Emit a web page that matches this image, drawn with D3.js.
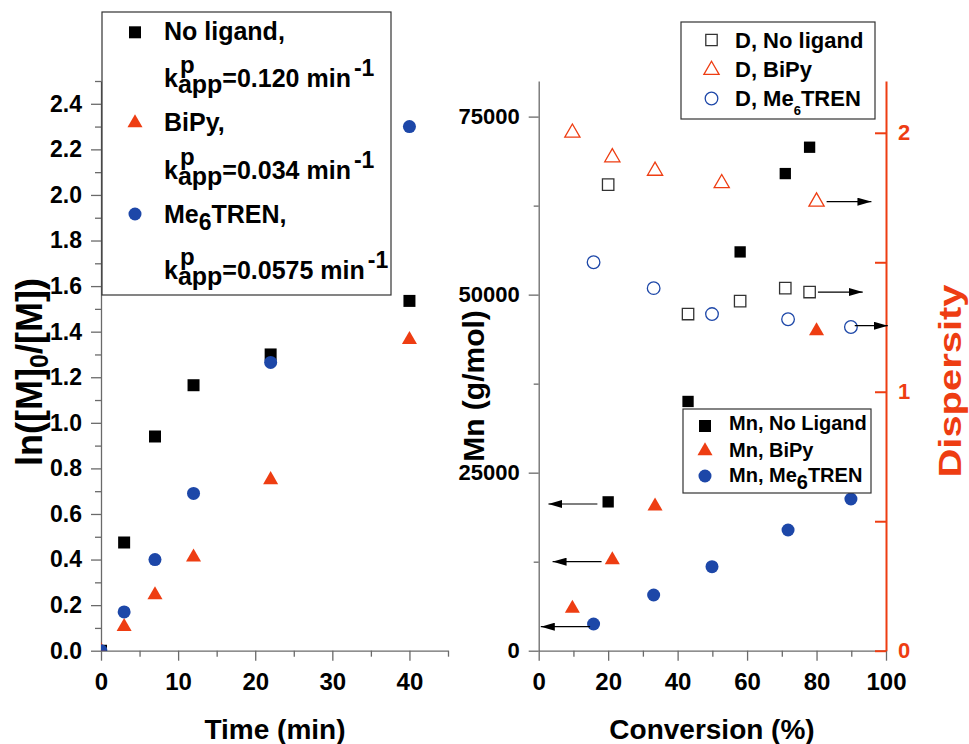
<!DOCTYPE html>
<html>
<head>
<meta charset="utf-8">
<script src="https://cdn.jsdelivr.net/npm/d3@7"></script>
<style>
  body { margin: 0; background: #fff; }
  text { font-family: "Liberation Sans", Arial, sans-serif; font-weight: bold; }
</style>
</head>
<body>
<script>
// ---- data: kinetics (left panel) ----
var timeMin    = [0, 3, 7, 12, 22, 40];
var lnNoLigand = [0, 0.475, 0.94, 1.165, 1.30, 1.535];
var lnBiPy     = [0, 0.105, 0.245, 0.41, 0.75, 1.365];
var lnMe6      = [0, 0.17, 0.40, 0.69, 1.265, 2.30];

// ---- data: Mn and dispersity vs conversion (right panel) ----
var convNoLigand = [20, 43, 58, 71, 78];
var mnNoLigand   = [20900, 35000, 56000, 67000, 70700];
var dNoLigand    = [1.80, 1.30, 1.35, 1.40, 1.385];

var convMnBiPy = [9.7, 21.2, 33.5, 80];
var mnBiPy     = [5950, 12740, 20300, 44900];
var convDBiPy  = [9.7, 21.2, 33.5, 52.7, 80];
var dBiPy      = [2.00, 1.905, 1.853, 1.805, 1.734];

var convMe6 = [15.8, 33.1, 49.9, 71.8, 89.9];
var mnMe6   = [3750, 7820, 11800, 16950, 21300];
var dMe6    = [1.50, 1.40, 1.30, 1.28, 1.25];

// arrows: which axis the series belongs to (conversion from -> to, at value)
var arrowFrom  = [82.9, 80.4, 91.0, 16.9, 18.1, 14.8];
var arrowTo    = [95.8, 93.3, 100.5, 2.8, 4.0, 0.6];
var arrowAt    = [1.734, 1.385, 1.255, 20600, 12500, 3370];
var arrowScale = ['D', 'D', 'D', 'Mn', 'Mn', 'Mn'];

// tick values
var lnMajor = [0, 0.2, 0.4, 0.6, 0.8, 1.0, 1.2, 1.4, 1.6, 1.8, 2.0, 2.2, 2.4];
var lnMinor = [0.1, 0.3, 0.5, 0.7, 0.9, 1.1, 1.3, 1.5, 1.7, 1.9, 2.1, 2.3, 2.5];
var timeMajor = [0, 10, 20, 30, 40];
var timeMinor = [5, 15, 25, 35, 45];
var convMajor = [0, 20, 40, 60, 80, 100];
var convMinor = [10, 30, 50, 70, 90];
var mnMajor = [0, 25000, 50000, 75000];
var mnMinor = [12500, 37500, 62500];
var dMajor = [0, 1, 2];
var dMinor = [0.5, 1.5];

var RED = '#ee3d12', BLUE = '#1d47a8', AXIS = '#6a6a6a';

var svg = d3.select('body').append('svg')
            .attr('width', 969)
            .attr('height', 744);

//scales
var xT  = d3.scaleLinear().domain([0, 45]).range([101, 448]);
var yLn = d3.scaleLinear().domain([0, 2.5]).range([650.7, 81]);
var xC  = d3.scaleLinear().domain([0, 100]).range([538.7, 886]);
var yMn = d3.scaleLinear().domain([0, 80000]).range([650.7, 81]);
var yD  = d3.scaleLinear().domain([0, 2.2]).range([650.7, 81]);

//axis helper: major ticks with labels + minor ticks without
function drawAxis(orient, scale, tx, ty, major, minor, fmt, opt){
  var make = {left: d3.axisLeft, bottom: d3.axisBottom, right: d3.axisRight}[orient];
  var g = svg.append('g').attr('transform', 'translate(' + tx + ',' + ty + ')');
  var gMin = g.append('g').call(make(scale).tickValues(minor).tickFormat('')
                .tickSize(opt.minor).tickSizeOuter(0));
  gMin.select('.domain').remove();
  var gMaj = g.append('g').call(make(scale).tickValues(major).tickFormat(fmt)
                .tickSize(opt.major).tickSizeOuter(0).tickPadding(opt.pad));
  g.selectAll('line').attr('stroke', opt.color).attr('stroke-width', opt.width);
  g.selectAll('.domain').attr('stroke', opt.color).attr('stroke-width', opt.width);
  gMaj.attr('font-family', null).attr('font-size', null);
  gMaj.selectAll('text')
      .style('font-size', opt.font + 'px')
      .attr('fill', opt.textColor || '#000');
  return g;
}

drawAxis('left', yLn, 101, 0, lnMajor, lnMinor, d3.format('.1f'),
         {major: 10, minor: 6, pad: 9, color: AXIS, width: 1.3, font: 23});
drawAxis('bottom', xT, 0, 650.7, timeMajor, timeMinor, d3.format('d'),
         {major: 10, minor: 6, pad: 12, color: AXIS, width: 1.3, font: 24});
drawAxis('left', yMn, 538.7, 0, mnMajor, mnMinor, d3.format('d'),
         {major: 10, minor: 5, pad: 9, color: AXIS, width: 1.3, font: 22});
drawAxis('bottom', xC, 0, 650.7, convMajor, convMinor, d3.format('d'),
         {major: 10, minor: 6, pad: 12, color: AXIS, width: 1.3, font: 24});
drawAxis('right', yD, 886, 0, dMajor, dMinor, d3.format('d'),
         {major: -11, minor: -11, pad: 12, color: RED, width: 2, font: 22, textColor: RED});

//marker helpers
var sqSym  = d3.symbol().type(d3.symbolSquare).size(144);
var triSym = d3.symbol().type(d3.symbolTriangle).size(98);
var cirSym = d3.symbol().type(d3.symbolCircle).size(133);

function drawPoints(layer, xs, ys, xScale, yScale, sym, fill, stroke){
  layer.selectAll(null).data(xs.map(function(d, i){ return {x: d, y: ys[i]}; }))
    .enter().append('path')
    .attr('d', sym)
    .attr('transform', function(d){ return 'translate(' + xScale(d.x) + ',' + yScale(d.y) + ')'; })
    .attr('fill', fill)
    .attr('stroke', stroke || 'none')
    .attr('stroke-width', 1.3);
}

//left panel points (clipped to plot area)
svg.append('clipPath').attr('id', 'clipL').append('rect')
   .attr('x', 101).attr('y', 81).attr('width', 347).attr('height', 569.7);
var left = svg.append('g').attr('clip-path', 'url(#clipL)');
drawPoints(left, timeMin, lnNoLigand, xT, yLn, sqSym, '#000');
drawPoints(left, timeMin, lnBiPy, xT, yLn, triSym, RED);
drawPoints(left, timeMin, lnMe6, xT, yLn, cirSym, BLUE);

//right panel points
var right = svg.append('g');
var oSq  = d3.symbol().type(d3.symbolSquare).size(130);
var oTri = d3.symbol().type(d3.symbolTriangle).size(100);
var oCir = d3.symbol().type(d3.symbolCircle).size(125);
drawPoints(right, convNoLigand, dNoLigand, xC, yD, oSq, 'none', '#333');
drawPoints(right, convDBiPy, dBiPy, xC, yD, oTri, 'none', RED);
drawPoints(right, convMe6, dMe6, xC, yD, oCir, 'none', BLUE);
drawPoints(right, convNoLigand, mnNoLigand, xC, yMn, d3.symbol().type(d3.symbolSquare).size(128), '#000');
drawPoints(right, convMnBiPy, mnBiPy, xC, yMn, triSym, RED);
drawPoints(right, convMe6, mnMe6, xC, yMn, cirSym, BLUE);

//arrows
svg.append('defs').append('marker')
   .attr('id', 'head').attr('viewBox', '0 0 14 8')
   .attr('refX', 14).attr('refY', 4)
   .attr('markerWidth', 14).attr('markerHeight', 8)
   .attr('markerUnits', 'userSpaceOnUse').attr('orient', 'auto')
   .append('path').attr('d', 'M0,0L14,4L0,8Z').attr('fill', '#000');
svg.append('g').selectAll('line').data(arrowFrom)
   .enter().append('line')
   .attr('x1', function(d){ return xC(d); })
   .attr('x2', function(d, i){ return xC(arrowTo[i]); })
   .attr('y1', function(d, i){ return (arrowScale[i] === 'D' ? yD : yMn)(arrowAt[i]); })
   .attr('y2', function(d, i){ return (arrowScale[i] === 'D' ? yD : yMn)(arrowAt[i]); })
   .attr('stroke', '#000').attr('stroke-width', 1.2)
   .attr('marker-end', 'url(#head)');

//legend: left panel
var legL = svg.append('g');
legL.append('rect').attr('x', 102).attr('y', 12).attr('width', 289).attr('height', 283)
    .attr('fill', '#fff').attr('stroke', '#333').attr('stroke-width', 1.2);
[[sqSym, '#000', 32.3], [triSym, RED, 123], [cirSym, BLUE, 214]].forEach(function(s){
  legL.append('path').attr('d', s[0]).attr('fill', s[1])
      .attr('transform', 'translate(135,' + s[2] + ')');
});
function plain(g, x, y, str, size){
  return g.append('text').attr('x', x).attr('y', y).style('font-size', size + 'px').text(str);
}
plain(legL, 164, 40, 'No ligand,', 25);
plain(legL, 164, 131, 'BiPy,', 25);
var me = plain(legL, 164, 223, 'Me', 25);
me.append('tspan').attr('dy', 7).style('font-size', '23px').text('6');
me.append('tspan').attr('dy', -7).text('TREN,');

//k_app^p line in one text element: p stacked over app
function kappLine(g, x, y, str){
  var t = plain(g, x, y, 'k', 25);
  var cx = x + t.node().getComputedTextLength();
  t.append('tspan').attr('x', cx + 2).attr('dy', -14).style('font-size', '24px').text('p');
  t.append('tspan').attr('x', cx).attr('dy', 20).text('app');
  t.append('tspan').attr('dy', -6).text(str);
  t.append('tspan').attr('dx', 3).attr('dy', -11).style('font-size', '23px').text('-1');
}
kappLine(legL, 164, 87, '=0.120 min');
kappLine(legL, 164, 179, '=0.034 min');
kappLine(legL, 164, 279, '=0.0575 min');

//legend: dispersity
var legD = svg.append('g');
legD.append('rect').attr('x', 681).attr('y', 22).attr('width', 194).attr('height', 97)
    .attr('fill', '#fff').attr('stroke', '#333').attr('stroke-width', 1.2);
[[oSq, '#333', 40], [oTri, RED, 70], [oCir, BLUE, 98.5]].forEach(function(s){
  legD.append('path').attr('d', s[0]).attr('fill', 'none').attr('stroke', s[1])
      .attr('stroke-width', 1.3).attr('transform', 'translate(711.5,' + s[2] + ')');
});
plain(legD, 735, 47.5, 'D, No ligand', 22);
plain(legD, 735, 77, 'D, BiPy', 22);
var dm = plain(legD, 735, 106, 'D, Me', 22);
dm.append('tspan').attr('dy', 9).style('font-size', '13px').text('6');
dm.append('tspan').attr('dy', -9).text('TREN');

//legend: Mn
var legM = svg.append('g');
legM.append('rect').attr('x', 683).attr('y', 409).attr('width', 188).attr('height', 84)
    .attr('fill', '#fff').attr('stroke', '#333').attr('stroke-width', 1.2);
[[sqSym, '#000', 426], [triSym, RED, 451], [cirSym, BLUE, 476]].forEach(function(s){
  legM.append('path').attr('d', s[0]).attr('fill', s[1])
      .attr('transform', 'translate(705,' + s[2] + ')');
});
plain(legM, 729, 430, 'Mn, No Ligand', 20);
plain(legM, 729, 456.5, 'Mn, BiPy', 20);
var mm = plain(legM, 729, 481.5, 'Mn, Me', 20);
mm.append('tspan').attr('dy', 7).text('6');
mm.append('tspan').attr('dy', -7).text('TREN');

//axis titles
var yl = svg.append('text').attr('transform', 'translate(42,372) rotate(-90)')
   .attr('text-anchor', 'middle').style('font-size', '36px').text('ln([M]');
yl.append('tspan').attr('dy', 6).style('font-size', '25px').text('0');
yl.append('tspan').attr('dy', -6).text('/[M])');

svg.append('text').attr('x', 275).attr('y', 739).attr('text-anchor', 'middle')
   .style('font-size', '28px').text('Time (min)');
svg.append('text').attr('x', 712).attr('y', 739).attr('text-anchor', 'middle')
   .style('font-size', '28px').text('Conversion (%)');
svg.append('text').attr('transform', 'translate(484,386) rotate(-90)')
   .attr('text-anchor', 'middle').style('font-size', '30px').text('Mn (g/mol)');
svg.append('text').attr('transform', 'translate(961,381) rotate(-90)')
   .attr('text-anchor', 'middle').style('font-size', '32px')
   .attr('textLength', 193).attr('lengthAdjust', 'spacingAndGlyphs')
   .attr('fill', RED).text('Dispersity');
</script>
</body>
</html>
